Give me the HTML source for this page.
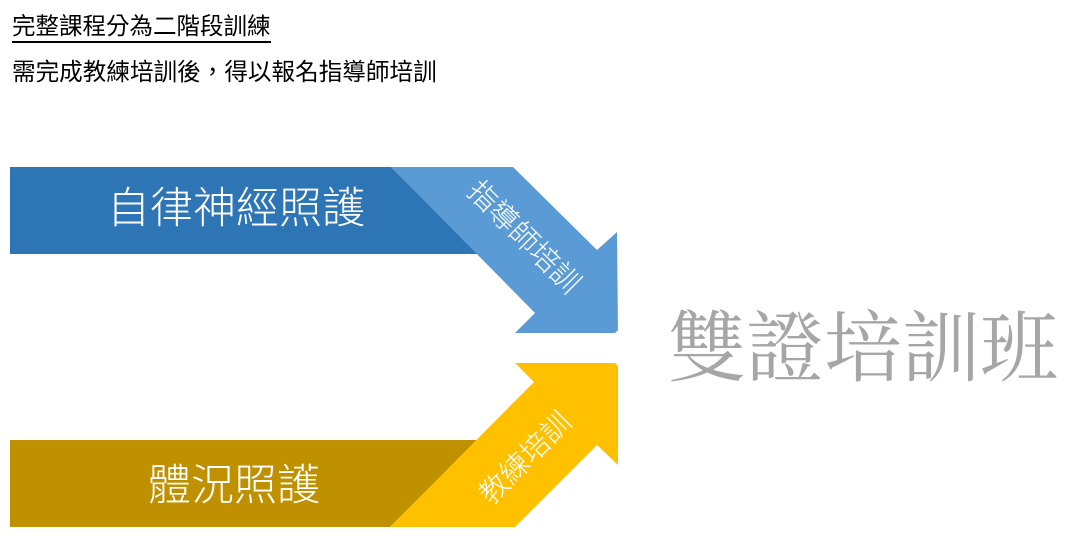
<!DOCTYPE html>
<html><head><meta charset="utf-8"><style>
html,body{margin:0;padding:0;background:#fff;}
body{width:1075px;height:542px;position:relative;overflow:hidden;font-family:"Liberation Sans","Noto Sans CJK TC",sans-serif;}
.t{position:absolute;white-space:nowrap;line-height:1;}
</style></head><body>
<div class="t" style="left:12px;top:15px;font-size:23.5px;color:#000;">完整課程分為二階段訓練</div>
<div style="position:absolute;left:12px;top:41px;width:259px;height:1.5px;background:#000;"></div>
<div class="t" style="left:12px;top:62px;font-size:23.6px;color:#000;">需完成教練培訓後，得以報名指導師培訓</div>
<svg width="1075" height="542" style="position:absolute;left:0;top:0">
<polygon points="10,167 391,167 478,254 10,254" fill="#2E75B6"/>
<polygon points="391,167 513,167 597,250 617,232 618,330 615,333 515,333 535,313" fill="#5B9BD5"/>
<polygon points="10,440 477,440 390,527 10,527" fill="#BF9000"/>
<polygon points="515,363 615,363 618,366 618,465 597,445 515,527 390,527 534,382" fill="#FFC000"/>
</svg>
<div class="t" style="left:107px;top:188px;font-size:43px;color:#fff;font-weight:300;">自律神經照護</div>
<div class="t" style="left:148px;top:465px;font-size:43px;color:#fff;font-weight:300;">體況照護</div>
<div class="t" style="left:523px;top:238px;font-size:29px;color:#fff;font-weight:300;transform:translate(-50%,-50%) rotate(45deg);">指導師培訓</div>
<div class="t" style="left:526px;top:459px;font-size:29px;color:#fff;font-weight:300;transform:translate(-50%,-50%) rotate(-45deg);">教練培訓</div>
<div class="t" style="left:668px;top:310px;font-size:78px;color:#A6A6A6;font-family:'Liberation Serif','Noto Serif CJK SC',serif;">雙證培訓班</div>
</body></html>
